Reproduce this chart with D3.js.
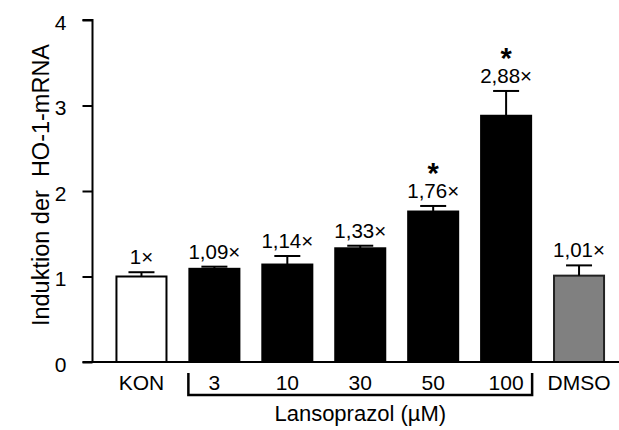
<!DOCTYPE html>
<html>
<head>
<meta charset="utf-8">
<script src="https://cdn.jsdelivr.net/npm/d3@7"></script>
<style>
  html, body { margin: 0; padding: 0; background: #fff; }
  svg { display: block; font-family: "Liberation Sans", Arial, Helvetica, sans-serif; }
</style>
</head>
<body>
<svg id="chart" width="619" height="430"></svg>
<script>
// HO-1 mRNA induction by lansoprazole
const categories = ["KON", "3", "10", "30", "50", "100", "DMSO"];
const values     = [1.00, 1.09, 1.14, 1.33, 1.76, 2.88, 1.01];
const errors     = [0.05, 0.025, 0.10, 0.03, 0.065, 0.29, 0.12];
const valueLabels = ["1×", "1,09×", "1,14×", "1,33×", "1,76×", "2,88×", "1,01×"];
const significant = [false, false, false, false, true, true, false];
const groupKind  = ["control", "drug", "drug", "drug", "drug", "drug", "vehicle"];
const yTicks     = [0, 1, 2, 3, 4];
const yTitle     = "Induktion der\u00a0 HO-1-mRNA";
const groupTitle = "Lansoprazol (µM)";

const fills = { control: "#ffffff", drug: "#000000", vehicle: "#808080" };

const svg = d3.select("#chart");

const x = d3.scaleBand()
  .domain(categories)
  .range([105, 615.5])
  .paddingInner(0.314)
  .paddingOuter(0.157);

const y = d3.scaleLinear().domain([0, 4]).range([362, 20]);

// bars
svg.append("g").selectAll("rect")
  .data(categories)
  .join("rect")
  .attr("x", d => x(d))
  .attr("width", x.bandwidth())
  .attr("y", (d, i) => y(values[i]))
  .attr("height", (d, i) => y(0) - y(values[i]))
  .attr("fill", (d, i) => fills[groupKind[i]])
  .attr("stroke", (d, i) => groupKind[i] === "vehicle" ? "#222" : "#000")
  .attr("stroke-width", 2);

// error bars (upper whisker only)
const capHalf = 13;
const eb = svg.append("g").attr("stroke", "#000").attr("stroke-width", 2);
categories.forEach((c, i) => {
  const cx = x(c) + x.bandwidth() / 2;
  const top = y(values[i] + errors[i]);
  eb.append("line").attr("x1", cx).attr("x2", cx).attr("y1", y(values[i])).attr("y2", top);
  eb.append("line").attr("x1", cx - capHalf).attr("x2", cx + capHalf).attr("y1", top).attr("y2", top);
});

// value labels
svg.append("g").selectAll("text")
  .data(categories)
  .join("text")
  .attr("x", d => x(d) + x.bandwidth() / 2)
  .attr("y", (d, i) => y(values[i] + errors[i]) - 8)
  .attr("text-anchor", "middle")
  .attr("font-size", 20.5)
  .text((d, i) => valueLabels[i]);

// significance stars
svg.append("g").selectAll("text")
  .data(categories.filter((d, i) => significant[i]))
  .join("text")
  .attr("x", d => x(d) + x.bandwidth() / 2)
  .attr("y", d => { const i = categories.indexOf(d); return y(values[i] + errors[i]) - 23; })
  .attr("text-anchor", "middle")
  .attr("font-size", 29)
  .attr("font-weight", "bold")
  .text("*");

// y axis
const yAxis = svg.append("g")
  .attr("transform", "translate(92.5,0)")
  .call(d3.axisLeft(y).tickValues(yTicks).tickFormat(d3.format("d")).tickSize(10).tickPadding(16));
yAxis.select(".domain").attr("stroke-width", 2).attr("d", `M-10,${y(4)}H0V${y(0)}`);
yAxis.selectAll(".tick line").attr("stroke-width", 2);
yAxis.selectAll(".tick text").attr("font-size", 21).attr("font-family", null).attr("fill", "#000").attr("dy", "0.45em");

// x baseline
svg.append("line")
  .attr("x1", 82.5).attr("x2", 619)
  .attr("y1", y(0)).attr("y2", y(0))
  .attr("stroke", "#000").attr("stroke-width", 2);

// category labels
svg.append("g").selectAll("text")
  .data(categories)
  .join("text")
  .attr("x", d => x(d) + x.bandwidth() / 2)
  .attr("y", 390)
  .attr("text-anchor", "middle")
  .attr("font-size", 21)
  .text(d => d);

// bracket under the lansoprazole doses
const drugCats = categories.filter((d, i) => groupKind[i] === "drug");
const bx0 = x(drugCats[0]) - 1;
const bx1 = x(drugCats[drugCats.length - 1]) + x.bandwidth() + 1;
svg.append("path")
  .attr("d", `M${bx0},373V395H${bx1}V373`)
  .attr("fill", "none")
  .attr("stroke", "#000")
  .attr("stroke-width", 2.5);

svg.append("text")
  .attr("x", (bx0 + bx1) / 2)
  .attr("y", 421)
  .attr("text-anchor", "middle")
  .attr("font-size", 22)
  .text(groupTitle);

// y axis title
svg.append("text")
  .attr("transform", `translate(49,${(y(0) + y(4)) / 2 - 6}) rotate(-90)`)
  .attr("text-anchor", "middle")
  .attr("font-size", 23.5)
  .text(yTitle);
</script>
</body>
</html>
